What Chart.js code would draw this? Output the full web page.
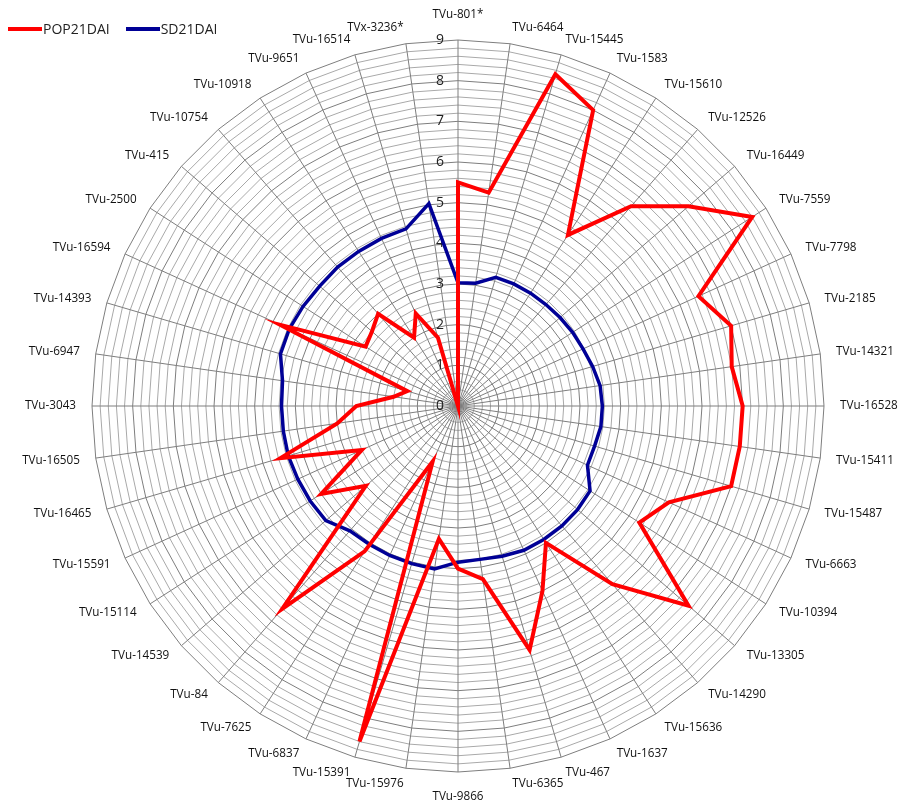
<!DOCTYPE html>
<html>
<head>
<meta charset="utf-8">
<script src="https://cdn.jsdelivr.net/npm/chart.js@4/dist/chart.umd.min.js"></script>
<style>
  html, body { margin: 0; padding: 0; background: #fff; }
  #wrap { position: relative; width: 899px; height: 804px; }
  #leyenda { position: absolute; left: 8px; top: 19px; display: flex; align-items: center;
             font-family: "Open Sans", sans-serif; font-size: 14px; color: #222; }
  .item { display: flex; align-items: center; margin-right: 16px; }
  .item i { display: inline-block; width: 34px; height: 4px; margin-right: 1px; }
</style>
</head>
<body>
<div id="wrap">
  <canvas id="radarDAI" width="899" height="804"></canvas>
  <div id="leyenda"></div>
</div>
<script>
// genotipos en el orden del eje, empezando arriba y girando en sentido horario
const genotipos = [
  'TVu-801*', 'TVu-6464', 'TVu-15445', 'TVu-1583', 'TVu-15610', 'TVu-12526', 'TVu-16449',
  'TVu-7559', 'TVu-7798', 'TVu-2185', 'TVu-14321', 'TVu-16528', 'TVu-15411', 'TVu-15487',
  'TVu-6663', 'TVu-10394', 'TVu-13305', 'TVu-14290', 'TVu-15636', 'TVu-1637', 'TVu-467',
  'TVu-6365', 'TVu-9866', 'TVu-15976', 'TVu-15391', 'TVu-6837', 'TVu-7625', 'TVu-84',
  'TVu-14539', 'TVu-15114', 'TVu-15591', 'TVu-16465', 'TVu-16505', 'TVu-3043', 'TVu-6947',
  'TVu-14393', 'TVu-16594', 'TVu-2500', 'TVu-415', 'TVu-10754', 'TVu-10918', 'TVu-9651',
  'TVu-16514', 'TVx-3236*'
];

const pop21dai = [
  5.5, 5.3, 8.5, 8.0, 5.0, 6.5, 7.5, 8.6, 6.5, 7.0, 6.8, 7.0, 7.0, 7.0,
  5.7, 5.3, 7.5, 5.8, 4.0, 5.0, 6.25, 4.3, 4.0, 3.3, 8.6, 1.5, 4.25, 6.6,
  3.0, 4.0, 2.6, 4.55, 3.0, 2.5, 1.6, 1.3, 4.8, 2.7, 2.8, 3.0, 2.0, 2.5,
  1.75, 0
];

const sd21dai = [
  3.03, 3.05, 3.3, 3.3, 3.3, 3.3, 3.32, 3.35, 3.38, 3.45, 3.53, 3.55, 3.55, 3.5,
  3.5, 3.86, 3.89, 3.9, 3.9, 3.9, 3.85, 3.81, 3.84, 4.05, 4.04, 4.04, 4.04, 4.06,
  4.3, 4.32, 4.33, 4.35, 4.34, 4.34, 4.36, 4.55, 4.56, 4.53, 4.5, 4.52, 4.52, 4.53,
  4.54, 5.03
];

const escala = [0, 1, 2, 3, 4, 5, 6, 7, 8, 9];

const series = [
  { nombre: 'POP21DAI', datos: pop21dai, color: '#ff0000', ancho: 4 },
  { nombre: 'SD21DAI', datos: sd21dai, color: '#000096', ancho: 3.5 }
];

const esEntero = v => Math.abs(v - Math.round(v)) < 1e-6;

// números del eje a la izquierda del radio vertical
const numerosEje = {
  id: 'numerosEje',
  beforeDatasetsDraw(chart) {
    const r = chart.scales.r;
    const ctx = chart.ctx;
    ctx.save();
    ctx.font = '14px "Open Sans", sans-serif';
    ctx.fillStyle = '#222';
    ctx.textAlign = 'right';
    ctx.textBaseline = 'middle';
    escala.forEach(v => {
      const p = r.getPointPositionForValue(0, v);
      ctx.fillText(String(v), p.x - 14, p.y);
    });
    ctx.restore();
  }
};

// nombres de los genotipos: centrados verticalmente en su radio, salvo arriba y abajo
const nombresGenotipo = {
  id: 'nombresGenotipo',
  afterDraw(chart) {
    const r = chart.scales.r;
    const ctx = chart.ctx;
    const n = genotipos.length;
    ctx.save();
    ctx.font = '11.7px "Open Sans", sans-serif';
    ctx.fillStyle = '#111';
    ctx.textBaseline = 'middle';
    genotipos.forEach((g, i) => {
      const ang = i * 360 / n;
      const p = r.getPointPosition(i, r.drawingArea + 16);
      let y = p.y;
      if (ang === 0) {
        ctx.textAlign = 'center';
        y -= 9;
      } else if (ang === 180) {
        ctx.textAlign = 'center';
        y += 9;
      } else {
        ctx.textAlign = ang < 180 ? 'left' : 'right';
      }
      ctx.fillText(g, p.x, y);
    });
    ctx.restore();
  }
};

new Chart(document.getElementById('radarDAI').getContext('2d'), {
  type: 'radar',
  data: {
    labels: genotipos,
    datasets: series.map(s => ({
      label: s.nombre,
      data: s.datos,
      borderColor: s.color,
      backgroundColor: 'transparent',
      borderWidth: s.ancho,
      pointRadius: 0,
      pointHoverRadius: 0,
      tension: 0,
      fill: false
    }))
  },
  options: {
    responsive: false,
    animation: false,
    layout: { padding: { left: 17, right: 0, top: 40, bottom: 32 } },
    plugins: {
      legend: { display: false },
      tooltip: { enabled: false }
    },
    scales: {
      r: {
        min: 0,
        max: 9,
        ticks: { stepSize: 0.2, display: false },
        grid: {
          color: c => esEntero(c.tick.value) ? '#7e7e7e' : '#a9a9a9',
          lineWidth: 1
        },
        angleLines: { color: '#7e7e7e', lineWidth: 1 },
        pointLabels: { display: false }
      }
    }
  },
  plugins: [numerosEje, nombresGenotipo]
});

document.getElementById('leyenda').innerHTML = series.map(s =>
  `<span class="item"><i style="background:${s.color}"></i>${s.nombre}</span>`).join('');
</script>
</body>
</html>
